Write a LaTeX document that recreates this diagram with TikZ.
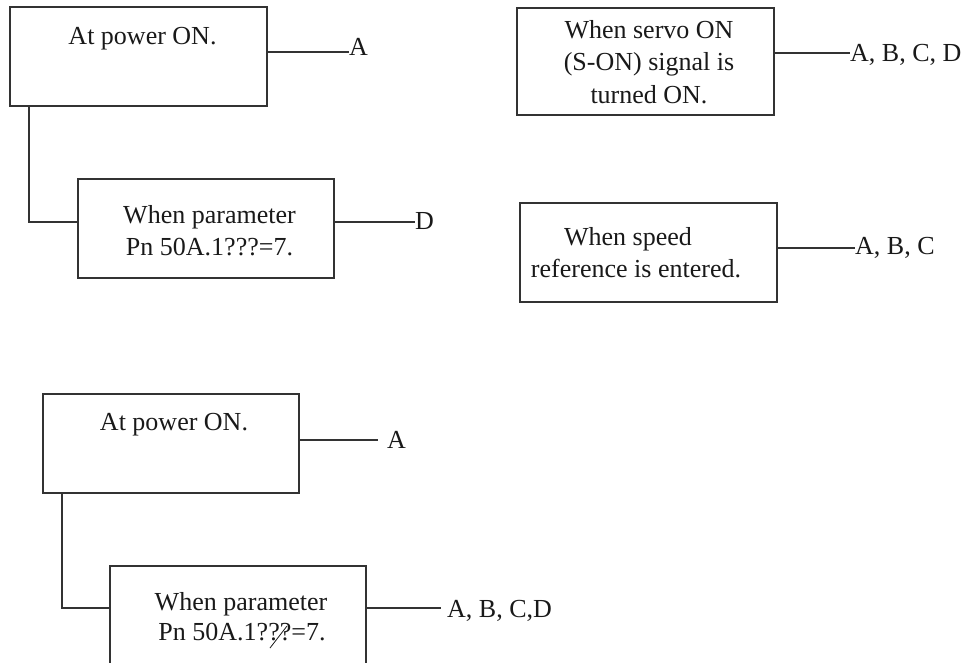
\documentclass[tikz,border=0pt]{standalone}
\usepackage{fontspec}
\setmainfont{Liberation Serif}
\begin{document}
\begin{tikzpicture}[x=1pt,y=-1pt,
  box/.style={draw=black!80, line width=1.3pt, rectangle, inner sep=0pt},
  wire/.style={draw=black!80, line width=1.2pt},
  txt/.style={anchor=base, inner sep=0pt, font=\fontsize{26}{32}\selectfont, text=black!90},
  tag/.style={anchor=base west, inner sep=0pt, font=\fontsize{26}{32}\selectfont, text=black!90}]
\useasboundingbox (0,0) rectangle (980,662);
\clip (0,0) rectangle (980,662);

% ---- upper left: power-on / parameter chain ----
\node[box, minimum width=257pt, minimum height=99pt] (p1) at (138.5,56.5) {};
\node[txt] (p1t) at (142.5,44) {At power ON.};
\node[tag] (p1a) at (349,55) {A};
\draw[wire] (p1.east |- 0,52) -- (p1a.west |- 0,52);

\node[box, minimum width=256pt, minimum height=99pt] (p2) at (206,228.5) {};
\node[txt] (p2t1) at (209.5,223) {When parameter};
\node[txt] (p2t2) at (209.5,255) {Pn 50A.1???=7.};
\node[tag] (p2d) at (415,229) {D};
\draw[wire] (p2.east |- 0,222) -- (p2d.west |- 0,222);
\draw[wire] (p1.south -| 29,0) -- (29,222) -- (p2.west |- 0,222);

% ---- upper right: servo ON and speed reference ----
\node[box, minimum width=257pt, minimum height=107pt] (s1) at (645.5,61.5) {};
\node[txt] (s1t1) at (649,38) {When servo ON};
\node[txt] (s1t2) at (649,70.5) {(S-ON) signal is};
\node[txt] (s1t3) at (649,103) {turned ON.};
\node[tag] (s1a) at (850,61) {A, B, C, D};
\draw[wire] (s1.east |- 0,53) -- (s1a.west |- 0,53);

\node[box, minimum width=257pt, minimum height=99pt] (s2) at (648.5,252.5) {};
\node[txt] (s2t1) at (628,245) {When speed};
\node[txt] (s2t2) at (636,277) {reference is entered.};
\node[tag] (s2a) at (855,254) {A, B, C};
\draw[wire] (s2.east |- 0,248) -- (s2a.west |- 0,248);

% ---- lower chain ----
\node[box, minimum width=256pt, minimum height=99pt] (q1) at (171,443.5) {};
\node[txt] (q1t) at (174,430) {At power ON.};
\node[tag] (q1a) at (387,448) {A};
\coordinate (q1e) at (378,440);
\draw[wire] (q1.east |- q1e) -- (q1e);

\node[box, minimum width=256pt, minimum height=150pt] (q2) at (238,641) {};
\node[txt] (q2t1) at (241,610) {When parameter};
\node[txt] (q2t2) at (242,640) {Pn 50A.1???=7.};
\draw[line width=0.8pt, black!90] (270,648) -- (287,626);
\node[tag] (q2a) at (447,617) {A, B, C,D};
\coordinate (q2e) at (441,608);
\draw[wire] (q2.east |- q2e) -- (q2e);
\draw[wire] (q1.south -| 62,0) -- (62,608) -- (q2.west |- 0,608);
\end{tikzpicture}
\end{document}
